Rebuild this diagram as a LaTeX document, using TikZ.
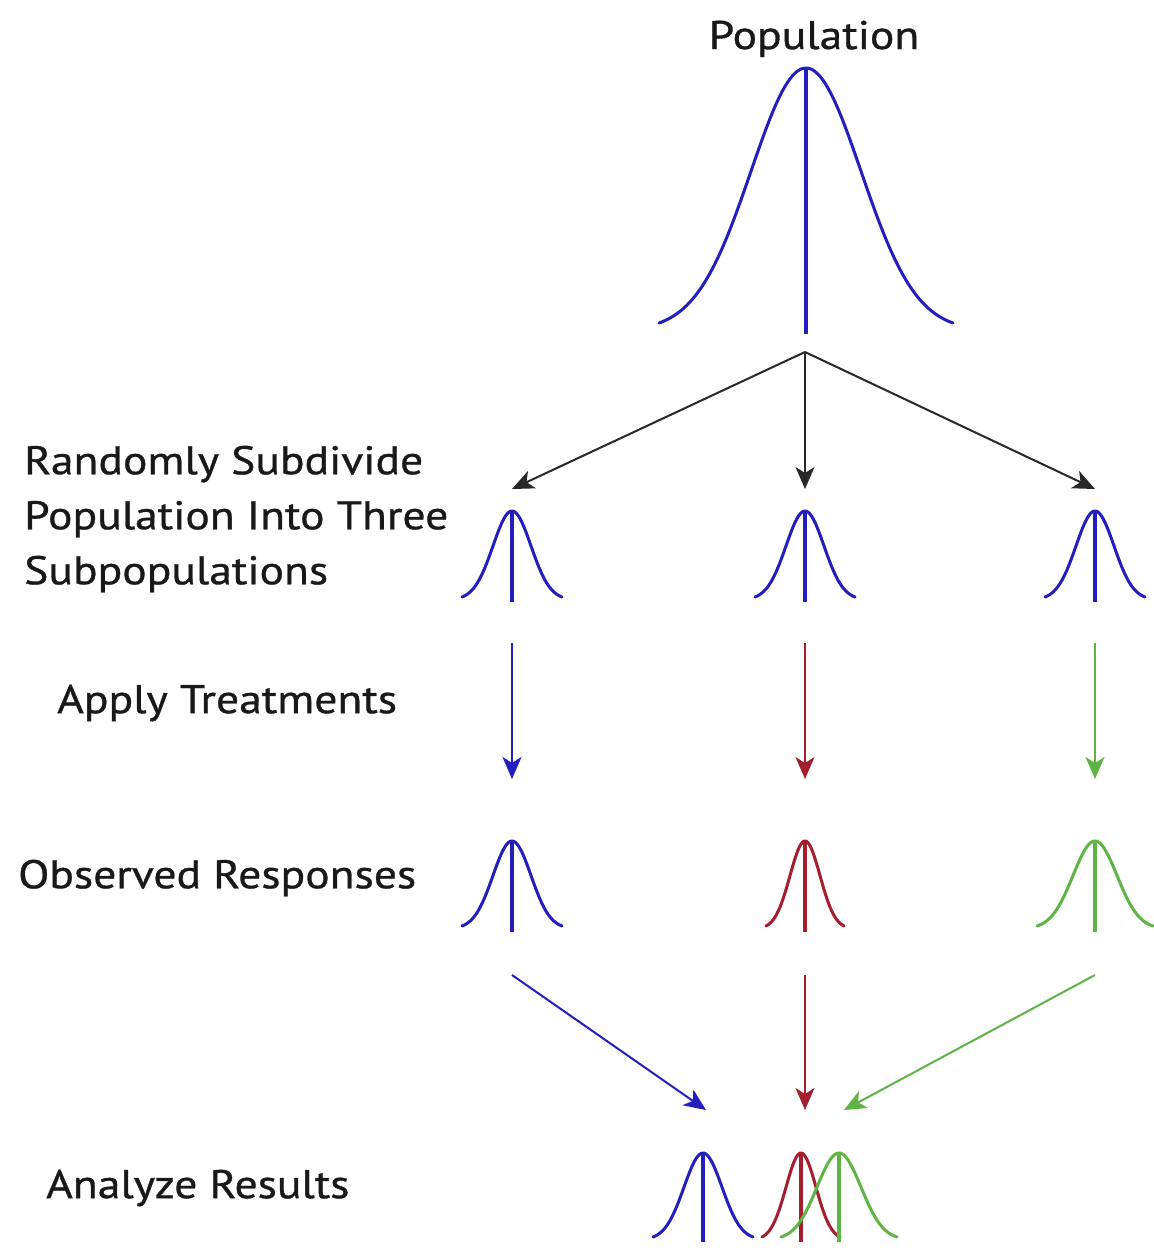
\documentclass[tikz,border=0pt]{standalone}
\usepackage{fontspec}
\setmainfont[FakeStretch=1.14, FakeBold=0.8]{PT Sans}
\usetikzlibrary{arrows.meta}
\definecolor{cblue}{RGB}{35,30,190}
\definecolor{cred}{RGB}{165,30,45}
\definecolor{cgreen}{RGB}{95,180,70}
\definecolor{cgray}{RGB}{40,40,40}
\tikzset{
  curve/.style={line width=3pt, line cap=round, line join=round},
  stem/.style={line width=4.5pt},
  conn/.style={line width=2pt, -{Stealth[length=22pt, width=19pt, inset=6pt]}},
  lbl/.style={font=\fontsize{40}{55}\selectfont, inner sep=0pt, text=black!90},
}
\newcommand{\gbell}[6]{%
  \draw[#6, curve] plot[domain=-#4:#4, samples=70, smooth] ({#1+\x},{#2+(#3-#2)*(1-exp(-0.5*(\x/#5)*(\x/#5)))/(1-exp(-0.5*(#4/#5)*(#4/#5)))});
}
\newcommand{\gstem}[4]{\draw[#4, stem] (#1,#2) -- (#1,#3);}
\begin{document}
\begin{tikzpicture}[x=1pt, y=-1pt]
\useasboundingbox (0,0) rectangle (1154,1254);
\fill[white] (0,0) rectangle (1154,1254);

% labels
\node[lbl, anchor=base] (tpop) at (814,49) {Population};
\node[lbl, anchor=west, align=left] (tsub) at (24,519) {Randomly Subdivide\\Population Into Three\\Subpopulations};
\node[lbl, anchor=west] (tapp) at (57,703) {Apply Treatments};
\node[lbl, anchor=west] (tobs) at (18,878) {Observed Responses};
\node[lbl, anchor=west] (tana) at (46,1188) {Analyze Results};

% population
\gbell{806}{68}{323}{147}{55}{cblue}
\gstem{806}{68}{334}{cblue}

% subpopulations
\gbell{512}{511}{597}{50}{19}{cblue}
\gstem{512}{511}{602}{cblue}
\gbell{805}{511}{597}{50}{19}{cblue}
\gstem{805}{511}{602}{cblue}
\gbell{1095}{511}{597}{50}{19}{cblue}
\gstem{1095}{511}{602}{cblue}

% observed responses
\gbell{512}{841}{926}{50}{19}{cblue}
\gstem{512}{841}{932}{cblue}
\gbell{805}{841}{926}{39}{15}{cred}
\gstem{805}{841}{932}{cred}
\gbell{1095}{841}{926}{58}{22}{cgreen}
\gstem{1095}{841}{932}{cgreen}

% analyze results
\gbell{703}{1153}{1237}{50}{19}{cblue}
\gstem{703}{1153}{1242}{cblue}
\gbell{801}{1153}{1237}{39}{15}{cred}
\gstem{801}{1153}{1242}{cred}
\gbell{839}{1153}{1237}{58}{22}{cgreen}
\gstem{839}{1153}{1242}{cgreen}

% connector coordinates
\coordinate (split) at (805,352);
\coordinate (s1) at (512,489);
\coordinate (s2) at (805,489);
\coordinate (s3) at (1095,489);
\coordinate (a1) at (512,643);
\coordinate (a2) at (805,643);
\coordinate (a3) at (1095,643);
\coordinate (b1) at (512,779);
\coordinate (b2) at (805,779);
\coordinate (b3) at (1095,779);
\coordinate (c1) at (512,975);
\coordinate (c2) at (805,975);
\coordinate (c3) at (1095,975);
\coordinate (d1) at (706,1110);
\coordinate (d2) at (805,1110);
\coordinate (d3) at (844,1110);

\draw[conn, cgray] (split) -- (s1);
\draw[conn, cgray] (split) -- (s2);
\draw[conn, cgray] (split) -- (s3);
\draw[conn, cblue] (a1) -- (b1);
\draw[conn, cred] (a2) -- (b2);
\draw[conn, cgreen] (a3) -- (b3);
\draw[conn, cblue] (c1) -- (d1);
\draw[conn, cred] (c2) -- (d2);
\draw[conn, cgreen] (c3) -- (d3);
\end{tikzpicture}
\end{document}
